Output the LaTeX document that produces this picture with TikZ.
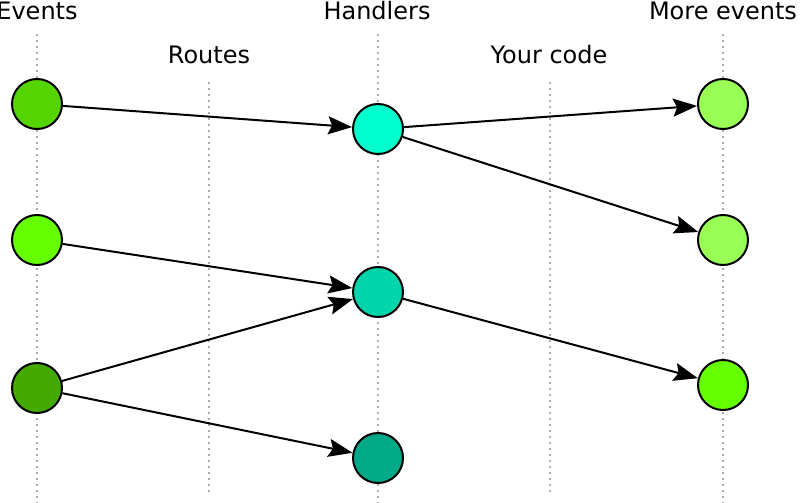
\documentclass[tikz,border=0pt]{standalone}
\usepackage{fontspec}
\setmainfont{DejaVu Sans}
\usetikzlibrary{arrows.meta}
\begin{document}
\begin{tikzpicture}[x=0.75pt,y=-0.75pt,
  dot/.style={circle,draw=black,line width=1.5pt,minimum size=37.5pt,inner sep=0pt},
  guide/.style={draw=gray!65,line width=1.5pt,dash pattern=on 1.5pt off 3pt},
  lbl/.style={font=\fontsize{18}{22}\selectfont,anchor=base,inner sep=0pt},
  conn/.style={line width=1.5pt,-{Stealth[length=18pt,width=13.5pt,inset=3pt]}}]
\useasboundingbox (0,0) rectangle (800,503);
\definecolor{ea}{HTML}{55D400}
\definecolor{eb}{HTML}{66FF00}
\definecolor{ec}{HTML}{44AA00}
\definecolor{ha}{HTML}{00FFCC}
\definecolor{hb}{HTML}{00D4AA}
\definecolor{hc}{HTML}{00AA88}
\definecolor{ma}{HTML}{99FF55}
% guides
\draw[guide] (37,34) -- (37,503);
\draw[guide] (209,82) -- (209,496);
\draw[guide] (378,34) -- (378,503);
\draw[guide] (550,82) -- (550,496);
\draw[guide] (723,34) -- (723,503);
% labels
\node[lbl] (tev) at (37,20) {Events};
\node[lbl] (tha) at (377,20) {Handlers};
\node[lbl] (tme) at (723,20) {More events};
\node[lbl] (tro) at (209,64) {Routes};
\node[lbl] (tyc) at (549,64) {Your code};
% nodes
\node[dot,fill=ea] (e1) at (37,104) {};
\node[dot,fill=eb] (e2) at (37,240) {};
\node[dot,fill=ec] (e3) at (37,388) {};
\node[dot,fill=ha] (h1) at (378,129) {};
\node[dot,fill=hb] (h2) at (378,292) {};
\node[dot,fill=hc] (h3) at (378,458) {};
\node[dot,fill=ma] (m1) at (723,104) {};
\node[dot,fill=ma] (m2) at (723,240) {};
\node[dot,fill=eb] (m3) at (723,385) {};
% connectors
\draw[conn] (e1) -- (h1);
\draw[conn] (h1) -- (m1);
\draw[conn] (h1) -- (m2);
\draw[conn] (e2) -- (h2);
\draw[conn] (e3) -- (h2);
\draw[conn] (e3) -- (h3);
\draw[conn] (h2) -- (m3);
\end{tikzpicture}
\end{document}
